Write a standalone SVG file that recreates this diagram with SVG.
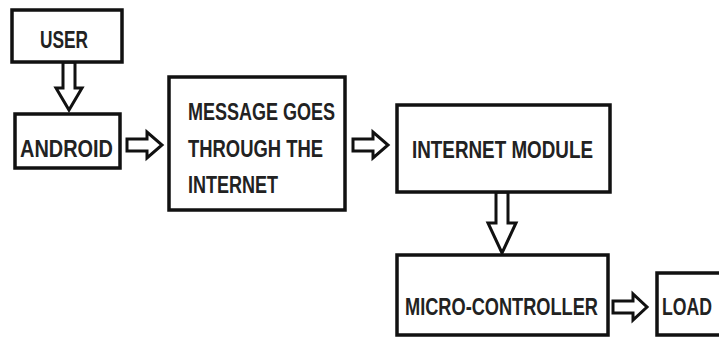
<svg xmlns="http://www.w3.org/2000/svg" width="719" height="337" viewBox="0 0 719 337">
<style>
.box{fill:#fff;stroke:#111;stroke-width:3.5}
.arr{fill:#fff;stroke:#111;stroke-width:3;stroke-linejoin:miter}
.t{font-family:"Liberation Sans",Arial,sans-serif;font-weight:bold;font-size:24px;fill:#222}
</style>
<rect width="719" height="337" fill="#fff"/>
<g id="connectors">
<polygon class="arr" points="63,62 75,62 75,88 82,88 69,110 56,88 63,88"/>
<polygon class="arr" points="127,139 147,139 147,132 162,145 147,158 147,151 127,151"/>
<polygon class="arr" points="353,139 373,139 373,132 388,145 373,158 373,151 353,151"/>
<polygon class="arr" points="496,192 508,192 508,223 516,223 502,253 488,223 496,223"/>
<polygon class="arr" points="613,301 633,301 633,294 647,307 633,320 633,313 613,313"/>
</g>
<g id="user">
<rect class="box" x="12" y="10" width="110" height="52"/>
<text class="t" x="40" y="48" textLength="48" lengthAdjust="spacingAndGlyphs">USER</text>
</g>
<g id="android">
<rect class="box" x="15" y="114" width="105" height="54"/>
<text class="t" x="20" y="157" textLength="93" lengthAdjust="spacingAndGlyphs">ANDROID</text>
</g>
<g id="message">
<rect class="box" x="169" y="77" width="176" height="133"/>
<text class="t" x="188" y="120" textLength="147" lengthAdjust="spacingAndGlyphs">MESSAGE GOES</text>
<text class="t" x="188" y="157" textLength="135" lengthAdjust="spacingAndGlyphs">THROUGH THE</text>
<text class="t" x="188" y="193" textLength="90" lengthAdjust="spacingAndGlyphs">INTERNET</text>
</g>
<g id="internet-module">
<rect class="box" x="397" y="105" width="213" height="87"/>
<text class="t" x="412" y="158" textLength="181" lengthAdjust="spacingAndGlyphs">INTERNET MODULE</text>
</g>
<g id="micro-controller">
<rect class="box" x="397" y="255" width="211" height="80"/>
<text class="t" x="405" y="315" textLength="193" lengthAdjust="spacingAndGlyphs">MICRO-CONTROLLER</text>
</g>
<g id="load">
<rect class="box" x="657" y="273" width="70" height="62"/>
<text class="t" x="662" y="315" textLength="50" lengthAdjust="spacingAndGlyphs">LOAD</text>
</g>
</svg>
